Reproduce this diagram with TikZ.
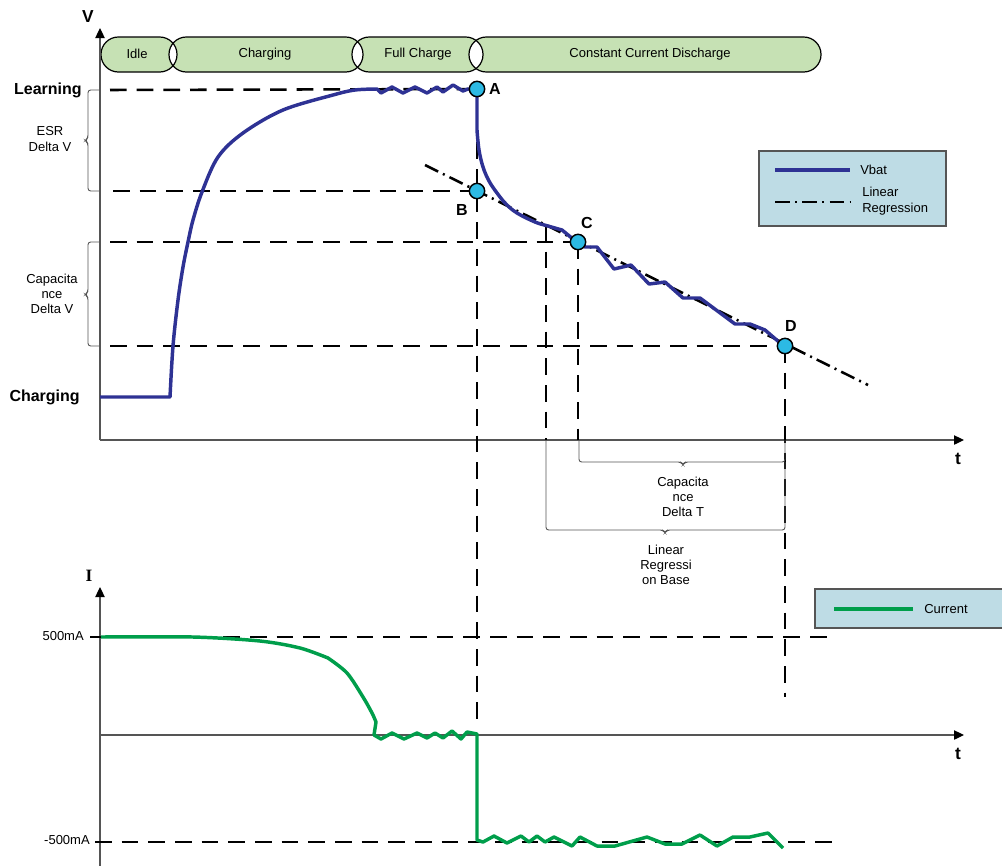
\documentclass[tikz,border=0pt]{standalone}
\usepackage{fontspec}
\setmainfont{Liberation Sans}
\newfontfamily\serifbf{Liberation Serif}
\usetikzlibrary{arrows.meta}
\definecolor{vblue}{RGB}{46,50,148}
\definecolor{igreen}{RGB}{0,158,75}
\definecolor{phasefill}{RGB}{198,225,180}
\definecolor{legfill}{RGB}{190,220,229}
\definecolor{ptfill}{RGB}{44,186,228}
\definecolor{axgray}{RGB}{85,85,85}
\tikzset{
  axis/.style={draw=axgray, line width=0.9pt, -{Triangle[length=7.5pt,width=7pt,color=black]}},
  guide/.style={draw=black, line width=1.9pt, dash pattern=on 12.5pt off 7.5pt},
  regr/.style={draw=black, line width=1.9pt, dash pattern=on 11pt off 4pt on 1.5pt off 4pt},
  vbat/.style={draw=vblue, line width=2.6pt, line join=round},
  cur/.style={draw=igreen, line width=2.6pt, line join=round},
  brace/.style={draw=axgray, line width=0.7pt, rounded corners=2pt},
  pt/.style={circle, draw=black, line width=1.1pt, fill=ptfill, minimum size=11.5pt, inner sep=0pt},
  txt/.style={font=\fontsize{9.75}{11.5}\selectfont, text=black, align=center, inner sep=0pt},
  big/.style={font=\fontsize{12}{14}\selectfont\bfseries, inner sep=0pt},
  phaseshape/.style={rounded corners=13pt},
  legbox/.style={fill=legfill, draw=axgray, line width=0.8pt}
}
\begin{document}
\begin{tikzpicture}[x=0.75pt,y=-0.75pt]
\useasboundingbox (0,0) rectangle (1002,865);

% ---------- phase bar ----------
\fill[phasefill, phaseshape] (101,37) rectangle (177,72);
\fill[phasefill, phaseshape] (169,37) rectangle (363,72);
\fill[phasefill, phaseshape] (352,37) rectangle (483,72);
\fill[phasefill, phaseshape] (469,37) rectangle (821,72);
\begin{scope}\clip[phaseshape] (101,37) rectangle (177,72);
  \fill[white, phaseshape] (169,37) rectangle (363,72);\end{scope}
\begin{scope}\clip[phaseshape] (169,37) rectangle (363,72);
  \fill[white, phaseshape] (352,37) rectangle (483,72);\end{scope}
\begin{scope}\clip[phaseshape] (352,37) rectangle (483,72);
  \fill[white, phaseshape] (469,37) rectangle (821,72);\end{scope}
\draw[line width=0.9pt, phaseshape] (101,37) rectangle (177,72);
\draw[line width=0.9pt, phaseshape] (169,37) rectangle (363,72);
\draw[line width=0.9pt, phaseshape] (352,37) rectangle (483,72);
\draw[line width=0.9pt, phaseshape] (469,37) rectangle (821,72);
\node[txt] (idle) at (137,54) {Idle};
\node[txt] (chg) at (265,54) {Charging};
\node[txt] (full) at (418,54) {Full Charge};
\node[txt] (ccd) at (650,54) {Constant Current Discharge};

% ---------- upper axes ----------
\coordinate (O1) at (100,440);
\draw[axis] (O1) -- (100,28);
\draw[axis] (O1) -- (964,440);
\node[big, font=\fontsize{13}{15}\selectfont\bfseries] (Vlab) at (88,17) {V};
\node[big, font=\fontsize{13}{15}\selectfont\bfseries] (tlab1) at (958,459) {t};
\node[big, anchor=east] (learn) at (82,90) {Learning};
\node[big, anchor=east] (chgl) at (80,397) {Charging};

% key points (positions)
\coordinate (Ap) at (477,89);
\coordinate (Bp) at (477,191);
\coordinate (Cp) at (578,242);
\coordinate (Dp) at (785,346);

% ---------- guides ----------
\coordinate (g1) at (110,90);
\coordinate (g2) at (113,191);
\coordinate (g3) at (110,242);
\coordinate (g4) at (110,346);
\draw[guide] (g1) -- (Ap);
\draw[guide] (g2) -- (Bp);
\draw[guide] (g3) -- (Cp);
\draw[guide] (g4) -- (Dp);
\coordinate (vA) at (477,725);
\draw[guide] (Ap) -- (vA);
\coordinate (v546t) at (546,225);
\coordinate (v546b) at (546,440);
\draw[guide] (v546t) -- (v546b);
\coordinate (v578b) at (578,440);
\draw[guide] (Cp) -- (v578b);
\coordinate (vD) at (785,697);
\draw[guide] (Dp) -- (vD);

% braces
\draw[brace] (100,90) -- (88,90) -- (88,138) -- (85,140.5) -- (88,143) -- (88,191) -- (100,191);
\draw[brace] (100,242) -- (88,242) -- (88,292) -- (85,294.5) -- (88,297) -- (88,346) -- (100,346);
\draw[brace] (579,440) -- (579,462) -- (681,462) -- (683,465) -- (685,462) -- (785,462) -- (785,440);
\draw[brace] (546,440) -- (546,530) -- (663,530) -- (665,533) -- (667,530) -- (785,530) -- (785,462);

\node[txt] (esr) at (50,139) {ESR\\Delta V};
\node[txt] (capv) at (52,294) {Capacita\\nce\\Delta V};
\node[txt] (capt) at (683,497) {Capacita\\nce\\Delta T};
\node[txt] (lrb) at (666,565) {Linear\\Regressi\\on Base};

% regression
\coordinate (r1) at (425,165);
\coordinate (r2) at (868,385);
\draw[regr] (r1) -- (r2);

% Vbat curve
\draw[vbat] (100,397) -- plot[smooth,tension=0.55] coordinates {(170,397) (173,346) (178,300) (183,267) (188,242) (193,220) (202,192) (218,157) (243,133) (283,110) (333,95) (355,90) (377,89)}
  -- (381,93) -- (392,87) -- (403,93) -- (415,87) -- (427,93) -- (437,87) -- (443,92) -- (453,85) -- (463,91) -- (468,89) -- (Ap);
\draw[vbat] (Ap) -- (477,130) -- plot[smooth,tension=0.6] coordinates {(477,130) (479,150) (483,167) (489,181) (497,193) (506,204) (517,213) (535,222) (548,226) (562,230)}
  -- (573,239) -- (Cp) -- (585,247) -- (597,247) -- (614,269) -- (631,265) -- (649,284) -- (665,282) -- (683,298) -- (700,298) -- (735,324) -- (750,324) -- (765,330) -- (779,342) -- (Dp);

% points
\node[pt] (A) at (Ap) {};
\node[pt] (B) at (Bp) {};
\node[pt] (C) at (Cp) {};
\node[pt] (D) at (Dp) {};
\node[big] (Al) at (495,89) {A};
\node[big] (Bl) at (462,210) {B};
\node[big] (Cl) at (587,223) {C};
\node[big] (Dl) at (791,326) {D};

% legend 1
\path[legbox] (759,151) rectangle (946,226);
\coordinate (l1a) at (775,170); \coordinate (l1b) at (850,170);
\draw[vbat] (l1a) -- (l1b);
\coordinate (l2a) at (775,202); \coordinate (l2b) at (850,202);
\draw[regr] (l2a) -- (l2b);
\node[txt, anchor=west] (vbatl) at (860,170) {Vbat};
\node[txt, anchor=west, align=left] (lrl) at (862,201) {Linear\\Regression};

% ---------- lower chart ----------
\coordinate (O2) at (100,735);
\draw[axis] (100,866) -- (100,587);
\draw[axis] (O2) -- (964,735);
\node[font=\fontsize{13}{15}\selectfont\serifbf\bfseries, inner sep=0pt] (Ilab) at (89,576) {I};
\node[big, font=\fontsize{13}{15}\selectfont\bfseries] (tlab2) at (958,754) {t};

\coordinate (p5a) at (90,637); \coordinate (p5b) at (828,637);
\draw[guide] (p5a) -- (p5b);
\coordinate (m5a) at (95,842); \coordinate (m5b) at (833,842);
\draw[guide] (m5a) -- (m5b);
\node[txt, anchor=east] (p5l) at (84,636) {500mA};
\node[txt, anchor=east] (m5l) at (90,840) {-500mA};

\draw[cur] (101,637) -- plot[smooth,tension=0.5] coordinates {(101,637) (193,637) (260,641) (300,648) (328,658)}
  -- plot[smooth,tension=0.5] coordinates {(328,658) (347,673) (363,697) (372,713) (376,722)}
  -- (374,735) -- (381,739) -- (392,733) -- (404,739) -- (417,733) -- (427,738) -- (435,733) -- (443,738) -- (452,731) -- (461,739) -- (467,732) -- (477,734)
  -- (477,840) -- (483,842) -- (494,836) -- (507,843) -- (521,836) -- (529,842) -- (537,836) -- (545,842) -- (554,837) -- (572,846) -- (580,837) -- (597,846) -- (615,846) -- (647,837) -- (665,844) -- (682,844) -- (700,835) -- (717,846) -- (733,837) -- (750,837) -- (768,833) -- (783,848);

% legend 2
\path[legbox] (815,589) rectangle (1010,628);
\coordinate (l3a) at (834,609); \coordinate (l3b) at (913,609);
\draw[cur] (l3a) -- (l3b);
\node[txt, anchor=west] (curl) at (924,609) {Current};
\end{tikzpicture}
\end{document}
